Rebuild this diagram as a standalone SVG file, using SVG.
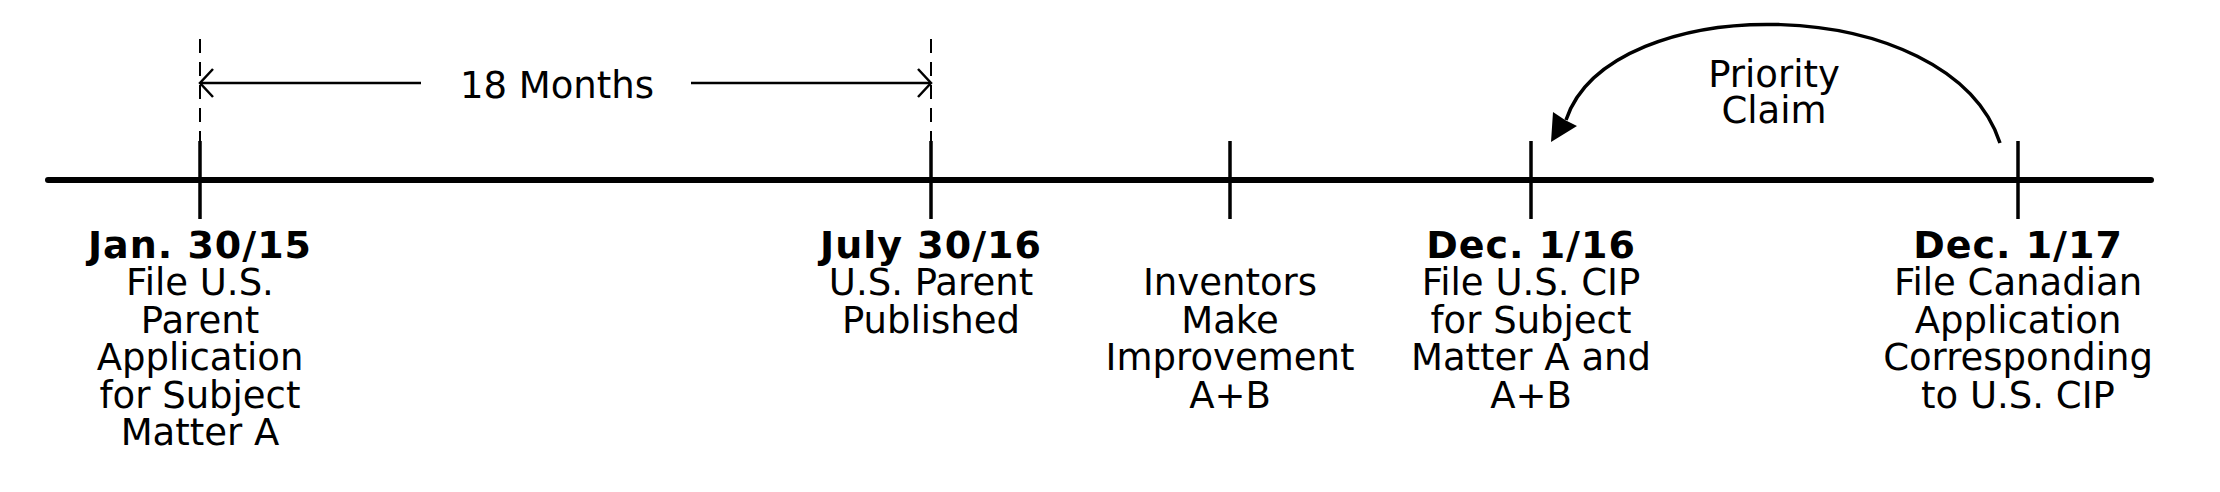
<svg xmlns="http://www.w3.org/2000/svg" width="2220" height="492" viewBox="0 0 2220 492">
<style>
text{font-family:"DejaVu Sans","Verdana",sans-serif;font-size:37px;fill:#000;text-anchor:middle}
.b{font-weight:bold;font-size:38px;letter-spacing:1px}
.tick{stroke:#000;stroke-width:3.5;fill:none}
.dash{stroke:#000;stroke-width:2;stroke-dasharray:14 9;fill:none}
.ln{stroke:#000;stroke-width:2.5;fill:none}
</style>
<defs>
<marker id="open" viewBox="0 0 20 30" refX="15" refY="15" markerWidth="20" markerHeight="30" markerUnits="userSpaceOnUse" orient="auto-start-reverse">
<path d="M2 1 L15 15 L2 29" fill="none" stroke="#000" stroke-width="2.5"/>
</marker>
</defs>
<g id="connectors">
<line x1="48" y1="180" x2="2151" y2="180" stroke="#000" stroke-width="6" stroke-linecap="round"/>
<line class="dash" x1="200" y1="39" x2="200" y2="141"/>
<line class="dash" x1="931" y1="39" x2="931" y2="141"/>
<line class="ln" x1="200" y1="83" x2="421" y2="83" marker-start="url(#open)"/>
<line class="ln" x1="691" y1="83" x2="931" y2="83" marker-end="url(#open)"/>
<path d="M2000 143 C1950 -10 1610 -12 1566 120" fill="none" stroke="#000" stroke-width="3.5"/>
<polygon points="1551,142 1553,112 1565,120 1577,126" fill="#000"/>
</g>
<g id="label-18months"><text x="557" y="98">18 Months</text></g>
<g id="label-priority"><text x="1774" y="87">Priority<tspan x="1774" dy="36">Claim</tspan></text></g>
<g id="node-jan15">
<line class="tick" x1="200" y1="141" x2="200" y2="219"/>
<text x="200" y="258"><tspan class="b">Jan. 30/15</tspan><tspan x="200" dy="37">File U.S.</tspan><tspan x="200" dy="37.5">Parent</tspan><tspan x="200" dy="37.5">Application</tspan><tspan x="200" dy="37.5">for Subject</tspan><tspan x="200" dy="37.5">Matter A</tspan></text>
</g>
<g id="node-jul16">
<line class="tick" x1="931" y1="141" x2="931" y2="219"/>
<text x="931" y="258"><tspan class="b">July 30/16</tspan><tspan x="931" dy="37">U.S. Parent</tspan><tspan x="931" dy="37.5">Published</tspan></text>
</g>
<g id="node-inventors">
<line class="tick" x1="1230" y1="141" x2="1230" y2="219"/>
<text x="1230" y="295">Inventors<tspan x="1230" dy="37.5">Make</tspan><tspan x="1230" dy="37.5">Improvement</tspan><tspan x="1230" dy="37.5">A+B</tspan></text>
</g>
<g id="node-dec16">
<line class="tick" x1="1531" y1="141" x2="1531" y2="219"/>
<text x="1531" y="258"><tspan class="b">Dec. 1/16</tspan><tspan x="1531" dy="37">File U.S. CIP</tspan><tspan x="1531" dy="37.5">for Subject</tspan><tspan x="1531" dy="37.5">Matter A and</tspan><tspan x="1531" dy="37.5">A+B</tspan></text>
</g>
<g id="node-dec17">
<line class="tick" x1="2018" y1="141" x2="2018" y2="219"/>
<text x="2018" y="258"><tspan class="b">Dec. 1/17</tspan><tspan x="2018" dy="37">File Canadian</tspan><tspan x="2018" dy="37.5">Application</tspan><tspan x="2018" dy="37.5">Corresponding</tspan><tspan x="2018" dy="37.5">to U.S. CIP</tspan></text>
</g>
</svg>
